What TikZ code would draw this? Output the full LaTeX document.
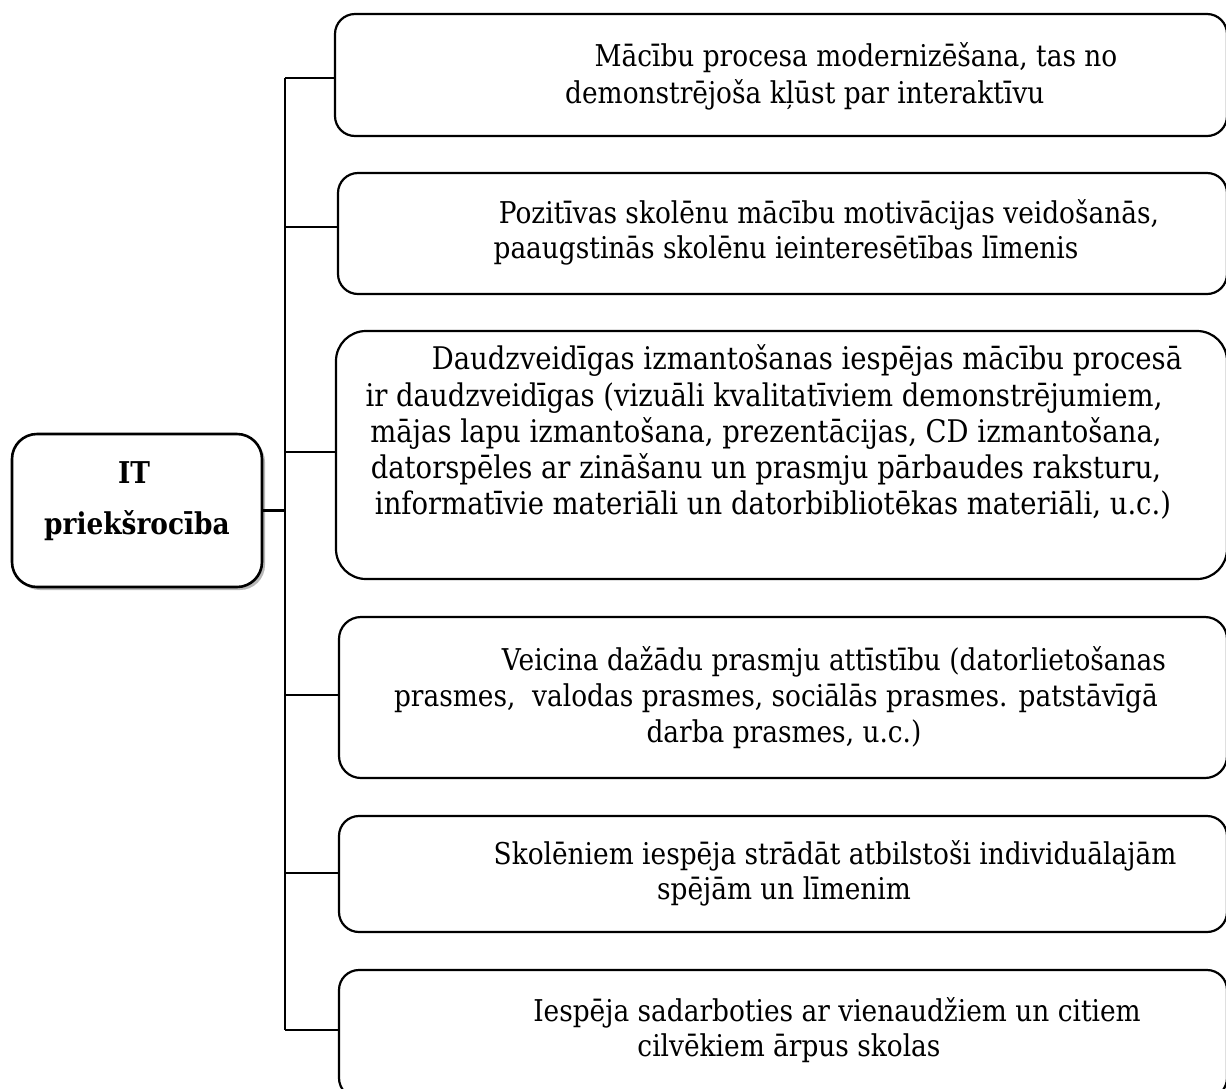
\documentclass[tikz,border=0pt]{standalone}
\usepackage{fontspec}
\setmainfont{DejaVu Serif}[FakeStretch=0.88]
\usetikzlibrary{shadows}
\begin{document}
\begin{tikzpicture}[x=1pt,y=-1pt,
  box/.style={draw=black, line width=2.2pt, rounded corners=20pt, fill=white, inner sep=0pt},
  link/.style={draw=black, line width=2.2pt},
  txt/.style={anchor=mid, inner sep=0pt, font=\fontsize{30}{36}\selectfont},
  txtbig/.style={anchor=mid, inner sep=0pt, font=\fontsize{31.2}{37}\selectfont},
  head/.style={anchor=mid, inner sep=0pt, font=\fontsize{30}{36}\selectfont\bfseries},
  ]
\useasboundingbox (0,0) rectangle (1226,1088);
\fill[white] (0,0) rectangle (1226,1088);

% root box with soft grey shadow
\node[box, line width=2.6pt, rounded corners=25pt, minimum width=250pt, minimum height=153pt,
      drop shadow={shadow xshift=3pt, shadow yshift=-3pt, fill=black!28, opacity=1}]
  (lb) at (137,510.5) {};
\node[head] (lbA) at (134,481) {IT};
\node[head] (lbB) at (137,532) {priekšrocība};

% branch boxes
\node[box, minimum width=892pt, minimum height=122pt] (b1) at (781,75) {};
\node[box, minimum width=889pt, minimum height=121pt] (b2) at (782.5,233.5) {};
\node[box, rounded corners=30pt, minimum width=891pt, minimum height=248pt] (b3) at (781.5,455) {};
\node[box, rounded corners=22pt, minimum width=888pt, minimum height=161pt] (b4) at (783,697.5) {};
\node[box, minimum width=888pt, minimum height=116pt] (b5) at (783,874) {};
\node[box, minimum width=888pt, minimum height=128pt] (b6) at (783,1034) {};

% trunk and joints
\coordinate (j1) at (285,78);
\coordinate (j2) at (285,227);
\coordinate (j3) at (285,452);
\coordinate (j4) at (285,695);
\coordinate (j5) at (285,873);
\coordinate (j6) at (285,1030);
\draw[link] (j1) -- (j6);
\draw[link] (lb.east) -- (lb.east -| j1);
\draw[link] (j1) -- (j1 -| b1.west);
\draw[link] (j2) -- (j2 -| b2.west);
\draw[link] (j3) -- (j3 -| b3.west);
\draw[link] (j4) -- (j4 -| b4.west);
\draw[link] (j5) -- (j5 -| b5.west);
\draw[link] (j6) -- (j6 -| b6.west);

% texts
\node[txt] (b1a) at (856,64) {Mācību procesa modernizēšana, tas no};
\node[txt, anchor=mid west] (b1b) at (565,101) {demonstrējoša kļūst par interaktīvu};

\node[txt] (b2a) at (829,221) {Pozitīvas skolēnu mācību motivācijas veidošanās,};
\node[txt] (b2b) at (786,256) {paaugstinās skolēnu ieinteresētības līmenis};

\node[txtbig] (b3a) at (807,367) {Daudzveidīgas izmantošanas iespējas mācību procesā};
\node[txtbig] (b3b) at (764,404) {ir daudzveidīgas (vizuāli kvalitatīviem demonstrējumiem,};
\node[txtbig] (b3c) at (766,440) {mājas lapu izmantošana, prezentācijas, CD izmantošana,};
\node[txtbig] (b3d) at (766,476) {datorspēles ar zināšanu un prasmju pārbaudes raksturu,};
\node[txtbig] (b3e) at (773,512) {informatīvie materiāli un datorbibliotēkas materiāli, u.c.)};

\node[txt] (b4a) at (834,668) {Veicina dažādu prasmju attīstību (datorlietošanas};
\node[txt] (b4b) at (776,704) {prasmes,\ \ valodas prasmes, sociālās prasmes. patstāvīgā};
\node[txt] (b4c) at (784,740) {darba prasmes, u.c.)};

\node[txt] (b5a) at (835,862) {Skolēniem iespēja strādāt atbilstoši individuālajām};
\node[txt] (b5b) at (784,897) {spējām un līmenim};

\node[txt] (b6a) at (837,1019) {Iespēja sadarboties ar vienaudžiem un citiem};
\node[txt] (b6b) at (789,1054) {cilvēkiem ārpus skolas};
\end{tikzpicture}
\end{document}
